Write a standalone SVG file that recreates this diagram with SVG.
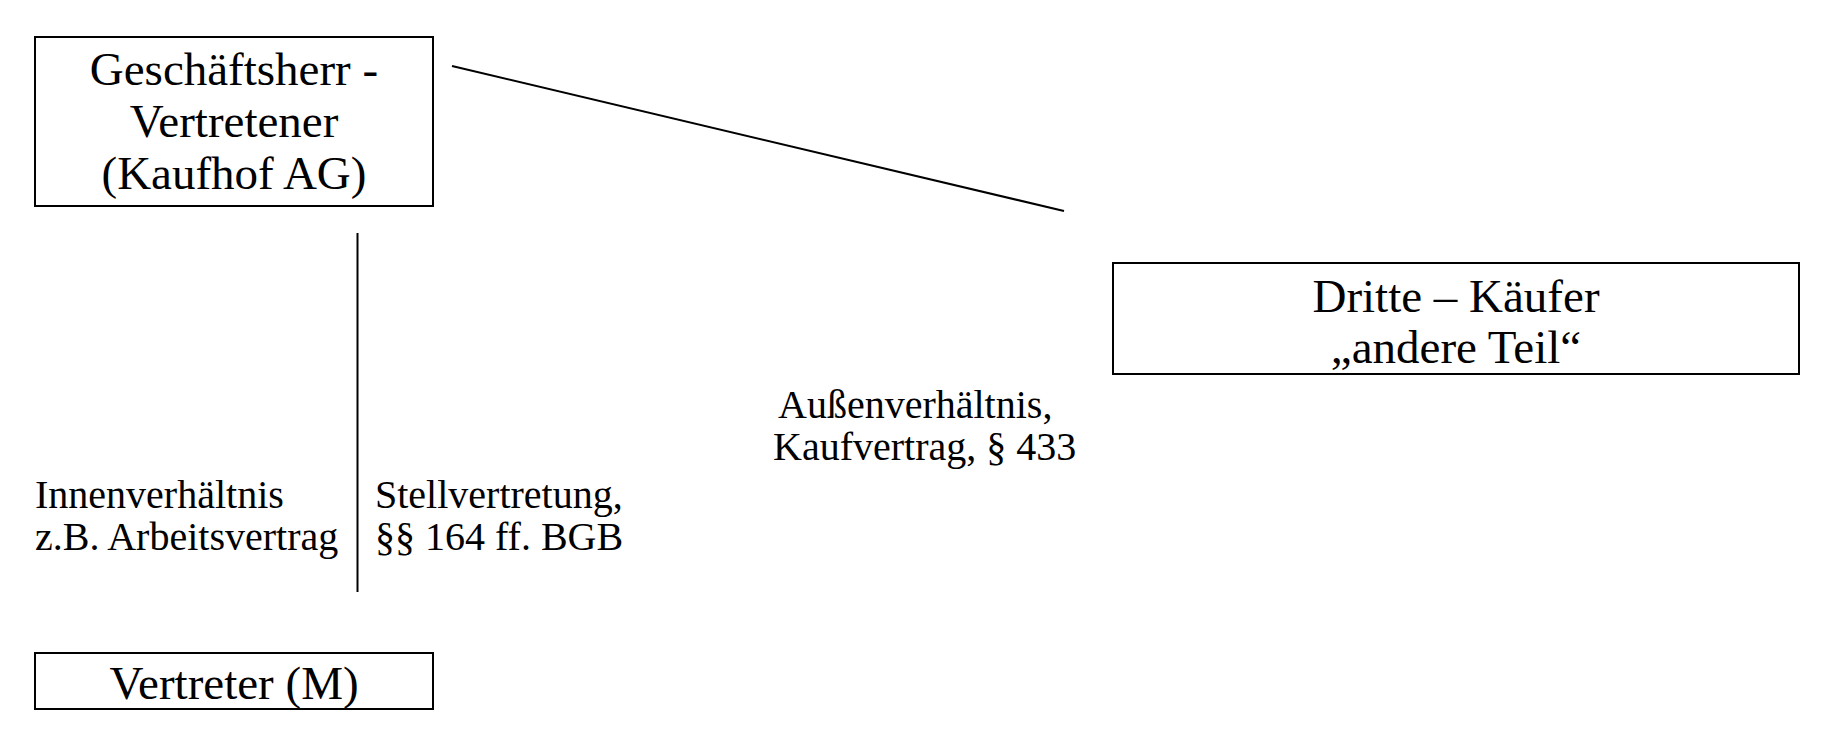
<svg xmlns="http://www.w3.org/2000/svg" width="1826" height="732" viewBox="0 0 1826 732">
<style>
.box{fill:#fff;stroke:#000;stroke-width:2}
.big{font-family:"Liberation Serif","Times New Roman",serif;font-size:47px;fill:#000;text-anchor:middle}
.lbl{font-family:"Liberation Serif","Times New Roman",serif;font-size:40px;fill:#000}
.conn{stroke:#000;stroke-width:2;fill:none}
</style>
<rect width="1826" height="732" fill="#fff"/>
<g id="connectors">
<line class="conn" x1="452" y1="66" x2="1064" y2="211"/>
<line class="conn" x1="357.5" y1="233" x2="357.5" y2="592"/>
</g>
<g id="geschaeftsherr">
<rect class="box" x="35" y="37" width="398" height="169"/>
<text class="big" x="234" y="85">Geschäftsherr -</text>
<text class="big" x="234" y="137">Vertretener</text>
<text class="big" x="234" y="189">(Kaufhof AG)</text>
</g>
<g id="dritte">
<rect class="box" x="1113" y="263" width="686" height="111"/>
<text class="big" x="1456" y="312">Dritte – Käufer</text>
<text class="big" x="1456" y="363">„andere Teil“</text>
</g>
<g id="vertreter">
<rect class="box" x="35" y="653" width="398" height="56"/>
<text class="big" x="234" y="699">Vertreter (M)</text>
</g>
<g id="labels">
<text class="lbl" x="35" y="508">Innenverhältnis</text>
<text class="lbl" x="35" y="550">z.B. Arbeitsvertrag</text>
<text class="lbl" x="375" y="508">Stellvertretung,</text>
<text class="lbl" x="375" y="550">§§ 164 ff. BGB</text>
<text class="lbl" x="778" y="418">Außenverhältnis,</text>
<text class="lbl" x="773" y="460">Kaufvertrag, § 433</text>
</g>
</svg>
